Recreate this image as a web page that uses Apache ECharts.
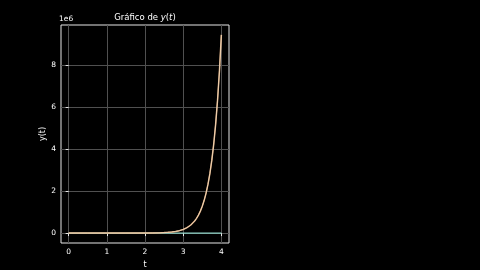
<!DOCTYPE html>
<html>
<head>
<meta charset="utf-8">
<script src="https://cdn.jsdelivr.net/npm/echarts@6/dist/echarts.min.js"></script>
<style>html,body{margin:0;padding:0;background:#000;}#c{width:480px;height:270px;}</style>
</head>
<body>
<div id="c"></div>
<script>
var tValues = [0,0.5,1,1.5,2,2.2,2.4,2.5,2.6,2.7,2.8,2.9,3.0,3.1,3.15,3.2,3.25,3.3,3.35,3.4,3.45,3.5,3.55,3.6,3.65,3.7,3.75,3.8,3.85,3.9,3.95,4.0];
var yMain = [0,0,0,0,0.003,0.007,0.016,0.023,0.035,0.052,0.078,0.116,0.173,0.257,0.314,0.384,0.469,0.573,0.700,0.855,1.044,1.275,1.557,1.902,2.323,2.837,3.465,4.232,5.169,6.314,7.712,9.419];
var yTeal = [0,0,0,0,0,0,0,0,0,0,0,0,0,0,0,0,0,0,0,0,0,0,0,0,0,0,0,0,0,0,0,0];
var xTicks = [0,1,2,3,4];
var yTicks = [0,2,4,6,8];
var SCALE = 1e6;

function pairs(ys){ return tValues.map(function(t,i){ return [t, ys[i]*SCALE]; }); }

var chart = echarts.init(document.getElementById('c'), null, {renderer:'canvas'});
var font = 'DejaVu Sans';
chart.setOption({
  backgroundColor:'#000',
  animation:false,
  grid:{left:61,right:251,top:25,bottom:27,outerBoundsMode:'none',containLabel:false,show:true,borderColor:'#e6e6e6',borderWidth:1,backgroundColor:'transparent'},
  xAxis:{type:'value',min:-0.2,max:4.2,
    axisLine:{show:false},
    axisTick:{show:true,customValues:xTicks,length:3,lineStyle:{color:'#e6e6e6',width:1}},
    axisLabel:{customValues:xTicks,color:'#ffffff',fontFamily:font,fontSize:7.5,margin:5},
    splitLine:{show:true,lineStyle:{color:'#505050',width:1}},
    name:'t',nameLocation:'middle',nameGap:15,nameTextStyle:{color:'#fff',fontFamily:font,fontSize:8}
  },
  yAxis:{type:'value',min:-0.471*SCALE,max:9.89*SCALE,
    axisLine:{show:false},
    axisTick:{show:true,customValues:yTicks.map(function(v){return v*SCALE;}),length:3,lineStyle:{color:'#e6e6e6',width:1}},
    axisLabel:{customValues:yTicks.map(function(v){return v*SCALE;}),color:'#ffffff',fontFamily:font,fontSize:7.5,margin:5,
      formatter:function(v){return String(Math.round(v/SCALE));}},
    splitLine:{show:true,lineStyle:{color:'#505050',width:1}},
    name:'y(t)',nameLocation:'middle',nameGap:14,nameRotate:90,nameTextStyle:{color:'#fff',fontFamily:font,fontSize:8}
  },
  graphic:[
    {type:'text',left:59,top:15,style:{text:'1e6',fill:'#fff',font:'7.5px "DejaVu Sans"'}},
    {type:'text',x:145,y:18,style:{
      text:'{n|Gráfico de }{i|y}{n|(}{i|t}{n|)}',
      rich:{n:{fill:'#fff',fontFamily:font,fontSize:8.5},i:{fill:'#fff',fontFamily:font,fontSize:8.5,fontStyle:'italic'}},
      align:'center',verticalAlign:'middle'}}
  ],
  series:[
    {type:'line',data:pairs(yTeal),showSymbol:false,lineStyle:{color:'#8dd3c7',width:1.3},z:2},
    {type:'line',data:pairs(yMain),showSymbol:false,lineStyle:{color:'#d9a67a',width:1.5},z:3},
    {type:'line',data:pairs(yMain),showSymbol:false,lineStyle:{color:'#f5e2c6',width:0.7},z:4}
  ]
});
</script>
</body>
</html>
